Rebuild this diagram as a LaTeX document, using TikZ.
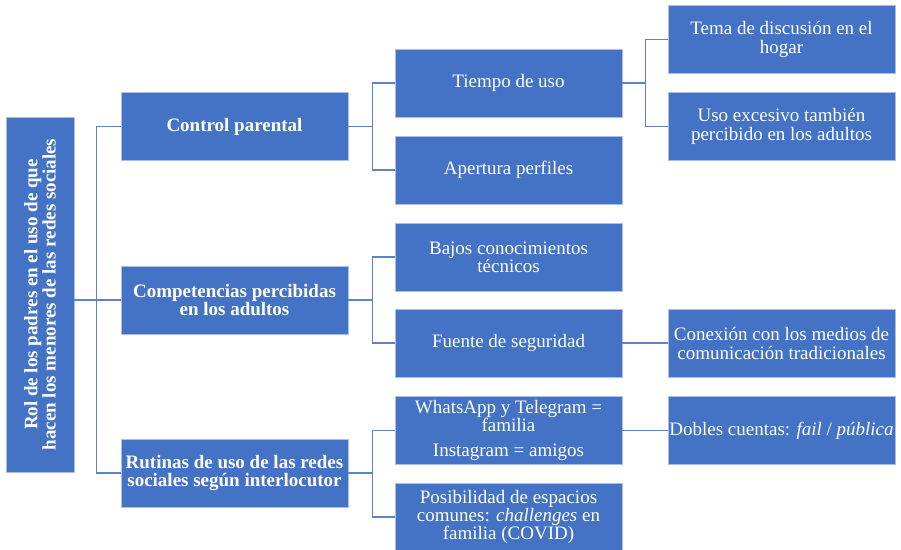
\documentclass[tikz,border=0pt]{standalone}
\usepackage{fontspec}
\setmainfont{Liberation Serif}
\definecolor{boxblue}{RGB}{68,114,196}
\definecolor{boxedge}{RGB}{170,190,230}
\definecolor{linkblue}{RGB}{95,130,198}
\begin{document}
\begin{tikzpicture}[x=1pt,y=-1pt,
  box/.style={rectangle, fill=boxblue, draw=boxedge, line width=0.6pt,
    minimum width=227pt, minimum height=68pt, inner sep=2pt,
    text=white, align=center, font=\fontsize{19}{18.3}\selectfont},
  boldbox/.style={box, font=\fontsize{19}{18.3}\selectfont\bfseries},
  link/.style={draw=linkblue, line width=1.1pt}]
\useasboundingbox (0,0) rectangle (901,549);
% root
\node[boldbox, rotate=90, minimum width=355pt, minimum height=68pt] (root) at (40,294.5)
  {Rol de los padres en el uso de que\\hacen los menores de las redes sociales};
% level 1
\node[boldbox] (ctrl) at (234.5,126.5) {Control parental};
\node[boldbox] (comp) at (234.5,300) {Competencias percibidas\\en los adultos};
\node[boldbox] (rut) at (234.5,473) {Rutinas de uso de las redes\\sociales según interlocutor};
% level 2
\node[box] (tiempo) at (508.5,83) {Tiempo de uso};
\node[box] (apert) at (508.5,170) {Apertura perfiles};
\node[box] (bajos) at (508.5,257) {Bajos conocimientos\\técnicos};
\node[box] (fuente) at (508.5,343) {Fuente de seguridad};
\node[box] (whats) at (508.5,430.5) {WhatsApp y Telegram =\\familia\\[7pt]Instagram = amigos};
\node[box] (posib) at (508.5,517) {Posibilidad de espacios\\comunes: \textit{challenges} en\\familia (COVID)};
% level 3
\node[box] (tema) at (781.5,39.5) {Tema de discusión en el\\hogar};
\node[box] (uso) at (781.5,126.5) {Uso excesivo también\\percibido en los adultos};
\node[box] (conex) at (781.5,343.5) {Conexión con los medios de\\comunicación tradicionales};
\node[box, inner sep=0pt] (dobles) at (781.5,430.5) {Dobles cuentas: \textit{fail} / \textit{pública}};
% connectors root -> level 1
\draw[link] (root.south |- comp.west) -- (comp.west);
\draw[link] (ctrl.west) -- ++(-24,0) |- (rut.west);
% level 1 -> level 2
\draw[link] (ctrl.east) -- ++(24,0) |- (tiempo.west);
\draw[link] (ctrl.east) ++(24,0) |- (apert.west);
\draw[link] (comp.east) -- ++(24,0) |- (bajos.west);
\draw[link] (comp.east) ++(24,0) |- (fuente.west);
\draw[link] (rut.east) -- ++(24,0) |- (whats.west);
\draw[link] (rut.east) ++(24,0) |- (posib.west);
% level 2 -> level 3
\draw[link] (tiempo.east) -- ++(23,0) |- (tema.west);
\draw[link] (tiempo.east) ++(23,0) |- (uso.west);
\draw[link] (fuente.east) -- (conex.west |- fuente.east);
\draw[link] (whats.east) -- (dobles.west);
\end{tikzpicture}
\end{document}
